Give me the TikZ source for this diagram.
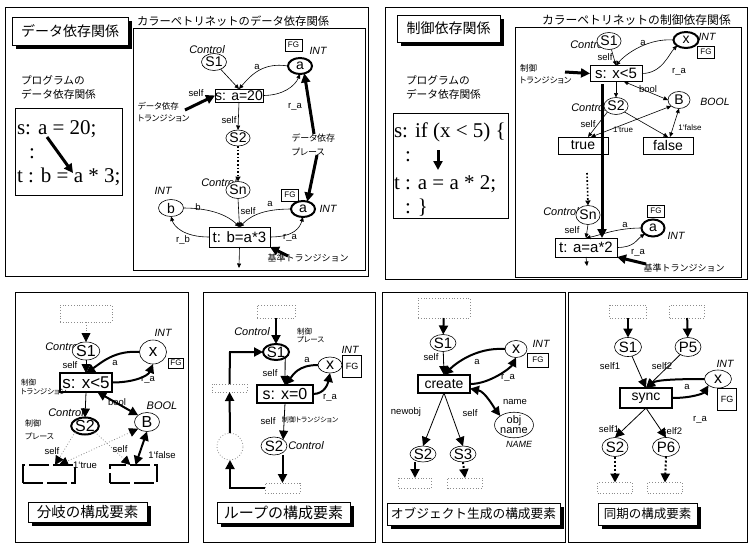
\documentclass[tikz,border=0pt]{standalone}
\usepackage{fontspec}
\setmainfont{Liberation Sans}
\newfontfamily\codefont{Liberation Serif}
\newfontfamily\jp{Noto Sans CJK JP}[RawFeature=+palt]
\newfontfamily\jpf{Noto Sans CJK JP}
\usetikzlibrary{arrows.meta,shapes.geometric,calc,shadows}
\newcommand{\fsz}[1]{\fontsize{#1}{#1}\selectfont}
\begin{document}
\begin{tikzpicture}[x=1pt,y=-1pt,
  every node/.style={inner sep=0pt,outer sep=0pt},
  pl/.style={ellipse,draw,fill=white,line width=0.6pt,minimum width=24pt,minimum height=17pt,font=\fsz{14}},
  tpl/.style={pl,line width=2pt},
  tr/.style={rectangle,draw,fill=white,line width=0.6pt,font=\fsz{14}},
  ttr/.style={tr,line width=2.2pt},
  lb/.style={font=\fsz{9.5}},
  ctl/.style={font=\fsz{11}\itshape},
  ty/.style={font=\fsz{10.5}\itshape},
  fg/.style={draw,fill=white,line width=0.6pt,font=\fsz{8},minimum width=17pt,minimum height=12pt},
  jl/.style={font=\fontsize{8.5}{12}\selectfont\jp,align=left,anchor=north west},
  shd/.style={drop shadow={shadow xshift=4pt,shadow yshift=-4pt,fill=black,opacity=1}},
  hdr/.style={draw,fill=white,line width=0.8pt,font=\fsz{14}\jpf,shd},
  code/.style={font=\fsz{21}\codefont,anchor=base west},
  ar/.style={-{Triangle[length=4.5pt,width=4pt]},line width=0.6pt},
  dar/.style={{Triangle[length=4.5pt,width=4pt]}-{Triangle[length=4.5pt,width=4pt]},line width=0.6pt},
  ptr/.style={-{Triangle[length=9pt,width=9pt]},line width=3pt},
  big/.style={-{Triangle[length=9pt,width=9pt]},line width=0.8pt},
  bigk/.style={-{Triangle[length=9pt,width=9pt]},line width=2pt},
  dbigk/.style={{Triangle[length=9pt,width=9pt]}-{Triangle[length=9pt,width=9pt]},line width=2pt},
  dline/.style={draw=black!45,dotted,line width=0.8pt},
  dbox/.style={draw=black!45,dotted,line width=0.8pt,fill=white},
  frame/.style={draw,line width=0.7pt},
  dthk/.style={dotted,line width=2pt,-{Triangle[length=9pt,width=9pt]}},
]
\path[use as bounding box] (0,0) rectangle (752,544);

% ================= panel 1
\draw[frame] (5,7) rectangle (368,276);
\draw[frame] (133,28) rectangle (365,270);
\node[hdr,minimum width=116pt,minimum height=28pt] (h1) at (70,31) {データ依存関係};
\node[font=\fsz{11.3}\jpf,anchor=base west] (t1) at (137,25) {カラーペトリネットのデータ依存関係};
\node[font=\fontsize{10.7}{14}\selectfont\jpf,align=left,anchor=north west] (p1) at (21,76) {プログラムの\\データ依存関係};
\draw[frame] (15,108) rectangle (122,195);
\node[code] (c1) at (17,134) {s: a = 20;};
\node[code] (c2) at (29,158) {:};
\node[code] (c3) at (17,182) {t : b = a * 3;};
\coordinate (c1a) at (47,137);
\coordinate (c3a) at (73,173);
\draw[ptr] (c1a) -- (c3a);

\node[ctl] (ctl1) at (207,50) {Control};
\node[pl,minimum width=25pt] (S1) at (214,62) {S1};
\node[tr,minimum width=48pt,minimum height=13pt] (s) at (239,95.5) {s: a=20};
\node[fg] (fg1) at (293.5,45) {FG};
\node[ty] (int1) at (318,51) {INT};
\node[tpl,minimum width=24pt,minimum height=16pt] (a1) at (300,66) {a};
\draw[ar] (S1) -- (s.north);
\draw[ar] (a1.west) .. controls +(-25,-4) and +(12,-14) .. (s.north);
\draw[ar] (s.east) .. controls +(20,0) and +(-5,12) .. (a1.south);
\node[lb] at (196,93) {self};
\node[lb] at (257,67) {a};
\node[lb] at (295,107) {r\_a};
\node[jl] (dtl) at (138,102) {データ依存\\トランジション};
\coordinate (dt1) at (185,110);
\draw[ptr] (dt1) -- (s.west);

\node[pl,minimum width=22pt,minimum height=16pt] (S2) at (238,138) {S2};
\draw[ar] (s.south) -- (S2.north);
\node[lb] at (229,120) {self};
\node[ctl] at (219,183) {Control};
\node[pl,minimum width=24pt,minimum height=17pt] (Sn) at (238,190) {Sn};
\draw[dotted,line width=1.6pt,-{Triangle[length=5pt,width=5pt]}] (S2.south) -- (Sn.north);
\node[ty] at (163,191) {INT};
\node[pl,minimum width=25pt,minimum height=17pt] (b) at (171,208) {b};
\node[fg] (fg2) at (290,195) {FG};
\node[ty] at (328,209) {INT};
\node[tpl,minimum width=24pt,minimum height=16pt] (a2) at (303,209) {a};
\node[tr,minimum width=61pt,minimum height=20pt,font=\fsz{15}] (t) at (239.5,237) {t: b=a*3};
\draw[ar] (Sn.south) -- (t.north);
\draw[ar] (b.east) .. controls +(30,0) and +(-10,-10) .. (t.north);
\draw[ar] (a2.west) .. controls +(-30,0) and +(10,-10) .. (t.north);
\draw[ar] (t.west) .. controls +(-25,0) and +(3,10) .. (b.south);
\draw[ar] (t.east) .. controls +(25,0) and +(-3,10) .. (a2.south);
\node[lb] at (248,211) {self};
\node[lb] at (198,207) {b};
\node[lb] at (270,204) {a};
\node[lb] at (183,240) {r\_b};
\node[lb] at (290,238) {r\_a};
\coordinate (tend) at (239,268);
\draw[ar] (t.south) -- (tend);
\node[font=\fsz{9}\jpf] (kj1) at (308,258) {基準トランジション};
\coordinate (kj1a) at (288,256);
\draw[ptr] (kj1a) -- (t.south east);
\node[font=\fontsize{9}{14}\selectfont\jp,align=left,anchor=north west] (dpl) at (292,134) {データ依存\\プレース};
\coordinate (dpu) at (314,134);
\coordinate (dpd) at (317,155);
\draw[ptr] (dpu) -- (a1.-60);
\draw[ptr] (dpd) -- (a2.60);

% ================= panel 2
\draw[frame] (385,7) rectangle (747,279);
\draw[frame] (515,27) rectangle (741,277);
\node[hdr,minimum width=103pt,minimum height=27pt] (h2) at (448.5,28.5) {制御依存関係};
\node[font=\fsz{11.8}\jpf,anchor=base west] (t2) at (542,24) {カラーペトリネットの制御依存関係};
\node[font=\fontsize{10.7}{14}\selectfont\jpf,align=left,anchor=north west] (p2) at (406,76) {プログラムの\\データ依存関係};
\draw[frame] (393,113) rectangle (508,218);
\node[code] (d1) at (394,137) {s: if (x < 5) \{};
\node[code] (d2) at (405,161) {:};
\node[code] (d3) at (394,189) {t : a = a * 2;};
\node[code] (d4) at (405,213) {: \}};
\coordinate (d1a) at (438,150);
\coordinate (d3a) at (438,170);
\draw[ptr] (d1a) -- (d3a);

\node[ctl] (ctl2) at (588,45) {Control};
\node[pl,minimum width=20pt] (S1b) at (609,41) {S1};
\node[tpl,minimum width=25pt,minimum height=16pt] (xb) at (686,40) {x};
\node[ty] at (707,37) {INT};
\node[fg] at (706,52) {FG};
\node[tr,minimum width=52pt,minimum height=16pt,font=\fsz{15}] (sb) at (616,73.5) {s: x<5};
\draw[ar] (S1b) -- (sb.north);
\draw[ar] (xb.west) .. controls +(-25,-2) and +(10,-12) .. (sb.north);
\draw[ar] (sb.east) .. controls +(20,0) and +(-8,8) .. (xb.south west);
\node[lb] at (605,57) {self};
\node[lb] at (643,43) {a};
\node[lb] at (679,72) {r\_a};
\node[jl] (ctl2l) at (520,64) {制御\\トランジション};
\coordinate (ctr) at (565,72);
\draw[ptr] (ctr) -- (sb.west);
\node[ctl] at (589,108) {Control};
\node[pl,minimum width=22pt] (S2b) at (616,106) {S2};
\draw[ar] (sb.south) -- (S2b.north);
\node[pl,minimum width=22pt] (Bb) at (679,100) {B};
\node[ty] at (715,102) {BOOL};
\node[lb] at (648,89) {bool};
\draw[dar] ($(sb.south)!0.3!(sb.south east)$) -- (Bb.west);
\node[tr,minimum width=50pt,minimum height=17pt] (trb) at (583,145.5) {true};
\node[tr,minimum width=50pt,minimum height=17pt] (fab) at (668,145.5) {false};
\draw[ar] (S2b.south west) -- ($(trb.north)+(5,0)$);
\draw[ar] (S2b.south east) -- (fab.north);
\draw[dar] (Bb.south west) -- ($(trb.north)+(8,0)$);
\draw[dar] (Bb.south) -- ($(fab.north)+(2,0)$);
\node[lb] at (588,124) {self};
\node[lb,font=\fsz{8}] at (623,130) {1`true};
\node[lb,font=\fsz{8}] at (690,128) {1`false};

\node[ctl] at (561,212) {Control};
\node[pl,minimum width=21pt,minimum height=19pt] (Snb) at (588,215) {Sn};
\coordinate (dotb) at (587,173);
\draw[dotted,line width=1.6pt,-{Triangle[length=5pt,width=5pt]}] (dotb) -- (Snb.north);
\node[tr,minimum width=62pt,minimum height=19pt,font=\fsz{15}] (tb) at (586,247.5) {t: a=a*2};
\draw[ar] (Snb.south) -- (tb.north);
\node[lb] at (572,230) {self};
\node[fg] at (656,211) {FG};
\node[tpl,minimum width=23pt,minimum height=17pt] (ab) at (653,228) {a};
\node[ty] at (676,236) {INT};
\draw[ar] (ab.west) .. controls +(-25,0) and +(15,-3) .. (tb.north);
\draw[ar] (tb.east) .. controls +(18,0) and +(-8,5) .. (ab.south west);
\node[lb] at (625,225) {a};
\node[lb] at (638,253) {r\_a};
\coordinate (tbe) at (587,266);
\draw[ar] (tb.south) -- (tbe);
\node[font=\fsz{9}\jpf] (kj2) at (684,268) {基準トランジション};
\coordinate (kj2a) at (646,264);
\draw[ptr] (kj2a) -- (tb.south east);
\coordinate (v1) at (602,84);
\draw[ptr] (v1) -- (v1 |- tb.north);

% ================= panel 3
\draw[frame] (15,292) rectangle (188,542);
\node[dbox,minimum width=52pt,minimum height=17pt] (b3t) at (86,313.5) {};
\node[ctl] at (63,347) {Control};
\node[pl,minimum width=22pt,minimum height=18pt,font=\fsz{16}] (S13) at (86,351) {S1};
\draw[dline,-{Triangle[length=9pt,width=9pt,color=black]}] (b3t) -- (S13);
\node[ty] at (163,333) {INT};
\node[pl,minimum width=27pt,minimum height=24pt,font=\fsz{17}] (x3) at (153,352) {x};
\node[fg,minimum width=15pt,minimum height=10pt] at (176,363) {FG};
\node[tr,minimum width=52pt,minimum height=19pt,line width=1.2pt,font=\fsz{17}] (s3) at (86,382.5) {s: x<5};
\draw[big] (S13) -- (s3.north);
\draw[bigk] (x3.west) .. controls +(-25,-2) and +(15,-10) .. (s3.north);
\draw[bigk] (s3.east) .. controls +(22,0) and +(-5,12) .. (x3.south);
\node[lb] at (70,365) {self};
\node[lb] at (115,363) {a};
\node[lb] at (148,380) {r\_a};
\node[font=\fontsize{7.5}{9}\selectfont\jp,align=left,anchor=north west] at (21,379) {制御\\トランジション};
\node[ctl] at (66,413) {Control};
\node[tpl,minimum width=24pt,minimum height=17pt,font=\fsz{16}] (S23) at (85,426) {S2};
\draw[big] (s3.south) -- (S23.north);
\node[font=\fontsize{8}{13}\selectfont\jp,align=left,anchor=north west] at (25,420) {制御\\プレース};
\node[pl,minimum width=25pt,minimum height=19pt,font=\fsz{16}] (B3) at (147,422) {B};
\node[ty,font=\fsz{11}\itshape] at (162,406) {BOOL};
\draw[dbigk] (s3.-40) -- (B3.north west);
\node[lb] at (117,402) {bool};
\node[draw,line width=2pt,dash pattern=on 20pt off 4pt,minimum width=52pt,minimum height=18pt] (lbx) at (49,474) {};
\node[draw,line width=2pt,dash pattern=on 20pt off 4pt,minimum width=47pt,minimum height=18pt] (rbx) at (133.5,474) {};
\draw[dline,-{Triangle[length=9pt,width=9pt,color=black]}] (S23.south west) -- ($(lbx.north)+(6,0)$);
\draw[dline,{Triangle[length=9pt,width=9pt,color=black]}-{Triangle[length=9pt,width=9pt,color=black]}] (B3.south west) -- ($(lbx.north)+(10,0)$);
\draw[dline,-{Triangle[length=9pt,width=9pt,color=black]}] (S23.south east) -- ($(rbx.north)+(-3,0)$);
\draw[dbigk] (B3.south) -- ($(rbx.north)+(2,0)$);
\node[lb] at (52,451) {self};
\node[lb] at (85,465) {1`true};
\node[lb] at (120,449) {self};
\node[lb] at (162,455) {1`false};
\node[hdr,minimum width=119pt,minimum height=20pt,font=\fsz{14.5}\jpf] (h3) at (87.5,512) {分岐の構成要素};

% ================= panel 4
\draw[frame] (203,292) rectangle (375,542);
\node[dbox,minimum width=38pt,minimum height=13pt] (b4t) at (276,311.5) {};
\node[ctl] at (252,332) {Control};
\node[font=\fontsize{7.5}{8.5}\selectfont\jp,align=left,anchor=north west] at (297,328) {制御\\プレース};
\node[tpl,minimum width=22pt,minimum height=16pt,font=\fsz{15}] (S14) at (276,352) {S1};
\draw[bigk] (b4t.south) -- (S14.north);
\node[ty] at (350,350) {INT};
\node[pl,minimum width=24pt,minimum height=16pt,font=\fsz{16}] (x4) at (330,365) {x};
\node[fg,minimum width=19pt,minimum height=22pt,font=\fsz{9}] at (352,366) {FG};
\node[ttr,minimum width=56pt,minimum height=18pt,font=\fsz{16}] (s4) at (285,394) {s: x=0};
\draw[big] (S14.south east) -- (s4.north);
\draw[bigk] (x4.west) .. controls +(-20,0) and +(8,-10) .. (s4.north);
\draw[bigk] (s4.east) .. controls +(12,0) and +(-2,10) .. (x4.south);
\node[lb] at (307,360) {a};
\node[lb] at (270,373) {self};
\node[lb] at (330,398) {r\_a};
\node[lb] at (268,421) {self};
\node[font=\fsz{7}\jp] at (310,420) {制御トランジション};
\node[pl,minimum width=25pt,minimum height=18pt,font=\fsz{15}] (S24) at (274,446) {S2};
\draw[big] (s4.south) -- (S24.north east);
\node[ctl] at (306,446) {Control};
\node[dbox,minimum width=35pt,minimum height=10pt] (b4b) at (282.5,488) {};
\draw[bigk] (S24.south -| b4b.north) -- (b4b.north);
\node[ellipse,dbox,minimum width=26pt,minimum height=27pt] (lpe) at (230,446.5) {};
\node[dbox,minimum width=35pt,minimum height=8pt] (b4l) at (229.5,388) {};
\coordinate (lp1) at (230,488);
\coordinate (lp2) at (230,352);
\draw[bigk] (b4b.west) -- (lp1) -- (lpe.south);
\draw[bigk] (lpe.north) -- (b4l.south);
\draw[bigk] (b4l.north) -- (lp2) -- (S14.west);
\node[hdr,minimum width=133pt,minimum height=21pt,font=\fsz{15}\jpf] (h4) at (283.5,512.5) {ループの構成要素};

% ================= panel 5
\draw[frame] (382,292) rectangle (565,542);
\node[dbox,minimum width=52pt,minimum height=20pt] (b5t) at (444,308) {};
\node[pl,minimum width=24pt,minimum height=17pt,font=\fsz{15}] (S15) at (443,343) {S1};
\draw[bigk] (b5t) -- (S15);
\node[lb] at (431,357) {self};
\node[pl,minimum width=22pt,minimum height=17pt,font=\fsz{16}] (x5) at (516,349) {x};
\node[ty] at (541,344) {INT};
\node[fg,minimum width=21pt,minimum height=14pt] at (538,360) {FG};
\node[ttr,minimum width=52pt,minimum height=18pt,font=\fsz{14}] (cr) at (444,384) {create};
\draw[big] (S15) -- (cr.north);
\draw[bigk] (x5.west) .. controls +(-30,-2) and +(10,-10) .. (cr.north);
\draw[bigk] (cr.east) .. controls +(20,0) and +(-5,10) .. (x5.south);
\node[lb] at (477,362) {a};
\node[lb] at (508,378) {r\_a};
\node[pl,minimum width=32pt,minimum height=25pt,font=\fontsize{11}{10}\selectfont,align=center] (on) at (514,425) {obj\\name};
\draw[dbigk] (cr.-10) .. controls +(15,3) and +(-6,-8) .. (on.north west);
\node[lb] at (515,402) {name};
\node[ty,font=\fsz{9}\itshape] at (519,444) {NAME};
\node[pl,minimum width=22pt,minimum height=16pt,font=\fsz{15}] (S25) at (423,454) {S2};
\node[pl,minimum width=23pt,minimum height=16pt,font=\fsz{15}] (S35) at (463,454) {S3};
\draw[big] (cr.south) -- (S25.north);
\draw[big] (cr.south) -- (S35.north);
\node[lb] at (406,412) {newobj};
\node[lb] at (470,413) {self};
\node[dbox,minimum width=33pt,minimum height=10pt] (b5a) at (415,483) {};
\node[dbox,minimum width=35pt,minimum height=10pt] (b5b) at (465,483) {};
\draw[bigk] (S25.south -| b5a.north) -- (b5a.north);
\draw[dthk] (S35.south) -- (b5b.north);
\node[hdr,minimum width=173pt,minimum height=22pt,font=\fsz{12.7}\jpf] (h5) at (473.5,514) {オブジェクト生成の構成要素};

% ================= panel 6
\draw[frame] (568,292) rectangle (747,542);
\node[dbox,minimum width=37pt,minimum height=13pt] (b6a) at (628,311.5) {};
\node[dbox,minimum width=35pt,minimum height=13pt] (b6b) at (687,311.5) {};
\node[pl,minimum width=27pt,minimum height=19pt,font=\fsz{15}] (S16) at (628,347) {S1};
\node[pl,minimum width=26pt,minimum height=19pt,font=\fsz{15}] (P5) at (688,347) {P5};
\draw[bigk] (b6a) -- (S16);
\draw[bigk] (b6b) -- (P5);
\node[lb] at (610,366) {self1};
\node[lb] at (662,366) {self2};
\node[ttr,minimum width=52pt,minimum height=20pt,font=\fsz{14}] (sy) at (646,398) {sync};
\draw[big] (S16) -- (sy.north);
\draw[big] (P5) -- (sy.north);
\node[ty] at (725,364) {INT};
\node[pl,minimum width=27pt,minimum height=18pt,font=\fsz{16}] (x6) at (718,379) {x};
\node[fg,minimum width=19pt,minimum height=22pt,font=\fsz{9}] at (727,399) {FG};
\draw[bigk] (x6.west) .. controls +(-30,0) and +(10,-8) .. (sy.north);
\draw[bigk] (sy.east) .. controls +(20,0) and +(-5,8) .. (x6.south west);
\node[lb] at (687,387) {a};
\node[lb] at (700,420) {r\_a};
\node[pl,minimum width=26pt,minimum height=19pt,font=\fsz{15}] (S26) at (615,447) {S2};
\node[pl,minimum width=27pt,minimum height=19pt,font=\fsz{15}] (P6) at (666,447) {P6};
\draw[big] (sy.south) -- (S26.north);
\draw[big] (sy.south) -- (P6.north);
\node[lb] at (609,429) {self1};
\node[lb] at (672,431) {self2};
\node[dbox,minimum width=35pt,minimum height=11pt] (b6c) at (615,488) {};
\node[dbox,minimum width=35pt,minimum height=11pt] (b6d) at (665,488) {};
\draw[dthk] (S26.south) -- (b6c.north);
\draw[dthk] (P6.south) -- (b6d.north);
\node[hdr,minimum width=99pt,minimum height=22pt,font=\fsz{12.5}\jpf] (h6) at (647.5,514) {同期の構成要素};
\end{tikzpicture}
\end{document}
